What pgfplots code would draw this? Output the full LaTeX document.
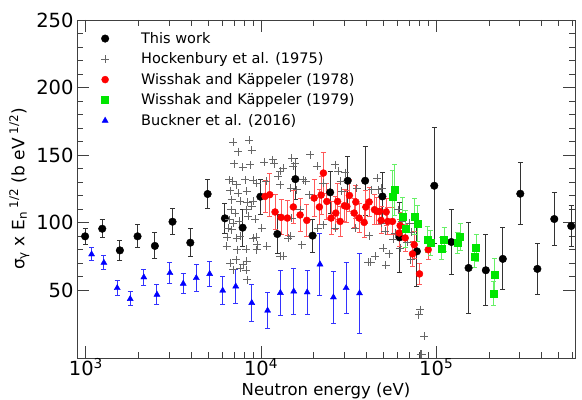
\documentclass[border=0pt]{standalone}
\usepackage{fontspec}
\setmainfont{DejaVu Sans}
\usepackage{pgfplots}
\pgfplotsset{compat=1.18}
\usetikzlibrary{calc}
\definecolor{lime}{RGB}{0,230,0}
\pgfplotsset{
  mk/.style={only marks,
    legend image code/.code={%
      \pgfpathrectangle{\pgfpoint{-8pt}{-2pt}}{\pgfpoint{42pt}{4pt}}\pgfusepath{use as bounding box}%
      \draw[##1] plot coordinates {(0pt,0pt)};}},
  eb/.style={error bars/.cd, y dir=both, y explicit,
    error bar style={#1, line width=1pt},
    error mark options={rotate=90, #1, mark size=2.5pt, line width=1pt}},
}
\begin{document}
\begin{tikzpicture}
\begin{axis}[
  scale only axis, width=498pt, height=338pt,
  xmode=log, xmin=890, xmax=6.2e5, ymin=0, ymax=250,
  axis line style={black!75, line width=0.8pt},
  tick style={black!75, line width=0.8pt},
  tick align=inside,
  major tick length=12pt, minor tick length=6pt,
  xtick={1000,10000,100000},
  xticklabels={10\textsuperscript{3},10\textsuperscript{4},10\textsuperscript{5}},
  minor xtick={900,2000,3000,4000,5000,6000,7000,8000,9000,20000,30000,40000,50000,60000,70000,80000,90000,200000,300000,400000,500000,600000},
  ytick={50,100,150,200,250}, minor y tick num=4,
  /pgf/number format/assume math mode=true,
  xticklabel style={font=\fontsize{19.5}{19.5}\selectfont, inner sep=1pt, yshift=1pt},
  yticklabel style={font=\fontsize{19.5}{19.5}\selectfont},
  label style={font=\fontsize{17}{17}\selectfont},
  xlabel={Neutron energy (eV)},
  ylabel={σ\textsubscript{γ} x E\textsubscript{n}\textsuperscript{ 1/2} (b eV\textsuperscript{ 1/2})},
  xlabel style={at={(axis description cs:0.5,0)}, anchor=base, yshift=-37.5pt,
    inner sep=1pt, font=\fontsize{16.5}{16.5}\selectfont},
  legend style={at={(0.034,0.976)}, anchor=north west, draw=none, fill=none,
    font=\fontsize{14.5}{14.5}\selectfont, row sep=4pt},
  legend cell align=left,
]

% This work
\addplot[mk, mark=*, mark size=3.8pt, black, eb=black!80] coordinates {
(990,90) +- (0,6)
(1240,95.6) +- (0,6.5)
(1564,79.6) +- (0,7.4)
(1973,90) +- (0,8.4)
(2477,82.9) +- (0,9.6)
(3124,100.8) +- (0,9.6)
(3947,85.3) +- (0,10.5)
(4956,121.3) +- (0,11)
(6220,103.3) +- (0,11)
(7850,96.4) +- (0,13.8)
(9910,119.3) +- (0,13)
(12390,91.7) +- (0,14.4)
(15700,132.3) +- (0,15.4)
(19700,90.5) +- (0,12.2)
(24800,122.5) +- (0,15.5)
(31240,131.1) +- (0,17.8)
(39300,131.1) +- (0,25.7)
(49300,119.5) +- (0,17.7)
(61700,89.2) +- (0,26)
(77600,78.9) +- (0,26)
(97500,127.4) +- (0,42.8)
(122000,85.8) +- (0,24.4)
(153000,66.6) +- (0,33.5)
(192000,64.9) +- (0,26.4)
(240000,73.3) +- (0,22.9)
(302000,121.5) +- (0,22.8)
(378000,65.9) +- (0,19.1)
(472000,102.8) +- (0,19.8)
(590000,97.6) +- (0,14.9)
};
\addlegendentry{This work}

% Hockenbury et al. (1975)
\addplot[mk, mark=+, mark size=4pt, black!60, mark options={line width=0.8pt}] coordinates {
(6945,159.4) (8574,160.9) (7419,152.7) (8850,153.5) (7037,143.6) (7860,141.2) (8700,142.9) (10440,144.6) (11670,146.6) (11900,143.6)
(6590,131.8) (6891,130.6) (7263,128.1) (8103,131.8) (9036,131.3) (9449,129.4) (10680,130.6) (12560,134.3) (12840,128.1)
(6652,123.8) (7419,122) (8286,123.2) (6801,117.1) (7586,115.8) (8351,115.1) (9036,115.8)
(6738,109.7) (7102,107.2) (8286,109.7) (8850,112.1) (6590,102.3) (6945,99.9) (7516,101) (8462,104.7) (9240,102.8)
(6504,96.2) (6801,94.9) (6419,89.5) (7263,88.8) (9363,89.5) (9525,83.8) (10090,96.2) (12840,75.2) (14320,88.8)
(6368,82.6) (6652,70.3) (6945,65.4) (7197,72.7) (7586,66.6) (7924,69) (8286,71.5) (8351,58) (7322,80.1) (8200,80.6) (9036,88.8) (7586,90) (10780,82.6) (13410,75.2)
(8210,64.8) (9449,80.1) (41040,70.8)
(19050,150.3) (26480,142.9) (15640,144.2) (14980,147.9) (17450,131.8) (27650,138) (30200,137.2) (46200,133.1) (16000,124.4) (18800,120.8) (28910,123.2) (35240,125.7) (42920,124.4)
(14980,103.5) (16710,109.7) (21090,96.2) (22700,98.6) (26480,96.2) (34450,96.2) (41590,90.5) (48940,99.9) (17090,83.8) (44820,75.2) (49990,81.4) (14800,90)
(28500,130.6) (46810,124.4) (48940,125.7) (42360,71) (51600,68.5) (54090,77.2) (60900,109.7) (63680,101) (70400,99.9) (71970,92.9) (62270,81.4) (68040,85.5) (71500,72.7)
(79240,32.1) (81030,35.8) (85380,16.1) (82830,2.6) (81500,2.6) (58310,92.5) (51120,93.6) (57020,88)
(12840,138) (13410,140.5) (15290,141.7) (20850,141.7) (17940,130.6) (14800,125.7) (22700,129.4)
};
\addlegendentry{Hockenbury et al. (1975)}

% Wisshak and Kaeppeler (1978)
\addplot[mk, mark=*, mark size=3.5pt, red, eb=red!65] coordinates {
(10540,119.5) +- (0,12)
(11210,120.8) +- (0,16)
(12020,108) +- (0,13)
(13010,104) +- (0,13)
(14130,103.5) +- (0,13)
(15290,111.7) +- (0,12)
(16710,105.8) +- (0,12)
(18250,101.8) +- (0,12)
(20090,118.3) +- (0,14)
(21540,111.7) +- (0,13)
(22020,120.5) +- (0,14)
(22700,136.8) +- (0,15)
(23740,115.8) +- (0,13)
(25120,103.5) +- (0,12)
(26720,107.2) +- (0,12)
(27360,115.8) +- (0,13)
(28280,101) +- (0,11)
(29920,112.6) +- (0,12)
(30890,112.1) +- (0,12)
(31960,120.2) +- (0,12)
(34000,107.2) +- (0,11)
(34770,115.4) +- (0,12)
(36310,103.5) +- (0,11)
(38780,100.3) +- (0,11)
(39660,111.7) +- (0,12)
(41410,115.4) +- (0,11)
(44410,109.7) +- (0,11)
(45830,108.4) +- (0,10)
(47420,108.4) +- (0,10)
(48490,101.8) +- (0,10)
(51810,108) +- (0,10)
(52970,101) +- (0,10)
(56270,101) +- (0,10)
(61460,92.5) +- (0,10)
(62270,97.9) +- (0,10)
(66520,88.8) +- (0,10)
(73220,77) +- (0,9)
(74870,83.8) +- (0,10)
(80270,62.2) +- (0,8)
(90000,80.1) +- (0,7)
};
\addlegendentry{Wisshak and Käppeler (1978)}

% Wisshak and Kaeppeler (1979)
\addplot[mk, mark=square*, mark size=3.5pt, lime, eb=lime!60] coordinates {
(56100,119.5) +- (0,19)
(58100,124.4) +- (0,19)
(64400,104.7) +- (0,14)
(66800,95.4) +- (0,14)
(75200,104.7) +- (0,13)
(78100,99.3) +- (0,13.5)
(89500,87.5) +- (0,9.4)
(92600,85.1) +- (0,9)
(107000,80.9) +- (0,8)
(111000,87.5) +- (0,9)
(132000,85.1) +- (0,8)
(137000,89.5) +- (0,10)
(165000,74.7) +- (0,8)
(169000,81.4) +- (0,10)
(212000,47.6) +- (0,9)
(215000,61.7) +- (0,12)
};
\addlegendentry{Wisshak and Käppeler (1979)}

% Buckner et al. (2016)
\addplot[mk, mark=triangle*, mark size=3.5pt, blue, eb=blue!80] coordinates {
(1078,76.7) +- (0,4.8)
(1267,70.5) +- (0,5)
(1510,51.8) +- (0,5.3)
(1791,43.7) +- (0,5.2)
(2142,59.7) +- (0,6)
(2546,46.9) +- (0,7.1)
(3020,62.9) +- (0,8)
(3596,55) +- (0,7.4)
(4270,59.2) +- (0,10.2)
(5090,62.2) +- (0,9)
(6040,49.9) +- (0,10.7)
(7170,53) +- (0,12.7)
(8850,40.8) +- (0,13.7)
(10900,35.1) +- (0,13)
(12900,48.2) +- (0,16.7)
(15370,49.3) +- (0,17)
(18340,48.6) +- (0,16.4)
(21700,69.3) +- (0,23)
(25900,44.9) +- (0,19.2)
(30600,51.8) +- (0,19)
(36500,47.9) +- (0,29.5)
};
\addlegendentry{Buckner et al. (2016)}

\end{axis}
\pgfresetboundingbox
\path[use as bounding box] ($(current axis.south west)+(-77pt,-42pt)$) rectangle ($(current axis.north east)+(7pt,20pt)$);
\end{tikzpicture}
\end{document}
